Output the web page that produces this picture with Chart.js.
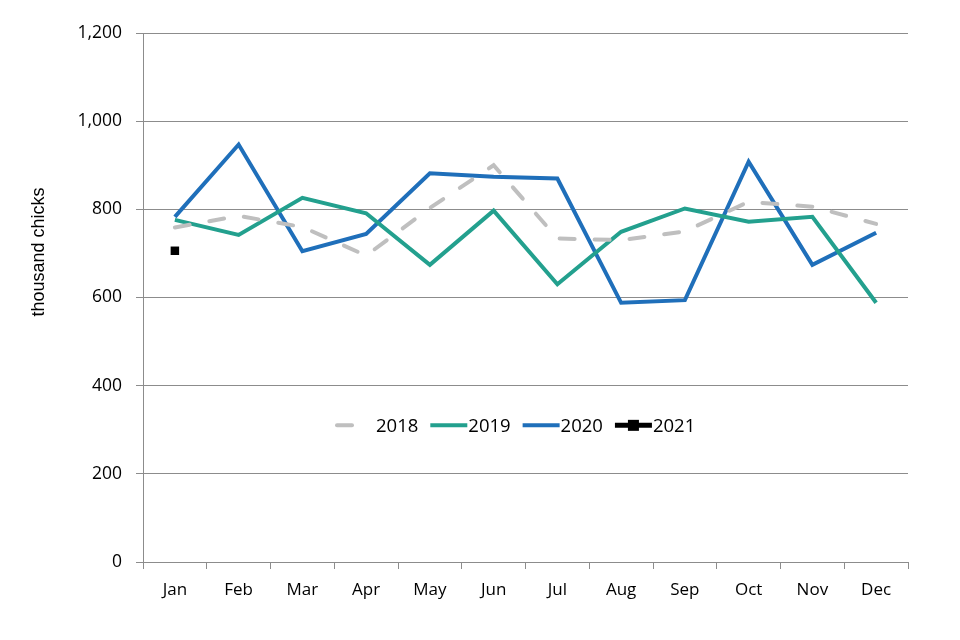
<!DOCTYPE html>
<html>
<head>
<meta charset="utf-8">
<script src="https://cdn.jsdelivr.net/npm/chart.js@4.4.1/dist/chart.umd.min.js"></script>
<style>
    html, body { margin: 0; padding: 0; background: #fff; }
    #wrap { width: 960px; height: 640px; }
</style>
</head>
<body>
<div id="wrap"><canvas id="chicks-chart" width="960" height="640"></canvas></div>
<script>
const months = ['Jan', 'Feb', 'Mar', 'Apr', 'May', 'Jun', 'Jul', 'Aug', 'Sep', 'Oct', 'Nov', 'Dec'];

const y2018 = [759, 785, 760, 695, 803, 900, 734, 730, 750, 817, 806, 767];
const y2019 = [776, 742, 826, 791, 674, 797, 630, 749, 802, 772, 783, 588];
const y2020 = [783, 947, 705, 744, 882, 874, 870, 588, 594, 908, 674, 747];
const y2021 = [706, null, null, null, null, null, null, null, null, null, null, null];

const yTitle = 'thousand chicks';

const FONT = "'Open Sans', 'Noto Sans', sans-serif";
const GRID = '#8c8c8c';

// legend sits inside the plot, around the 310 line
const insideLegend = {
    id: 'insideLegend',
    afterDraw(chart) {
        const ctx = chart.ctx;
        const y = chart.scales.y.getPixelForValue(310);
        const lineW = 37;
        let x = 335;
        ctx.save();
        ctx.font = '18.5px ' + FONT;
        ctx.textBaseline = 'middle';
        chart.data.datasets.forEach((ds, i) => {
            ctx.beginPath();
            ctx.lineWidth = ds.pointStyle === 'rect' ? 5 : 4;
            ctx.strokeStyle = ds.legendColor;
            if (ds.borderDash) {
                // only one dash shows in the key
                ctx.lineCap = 'round';
                ctx.moveTo(x + 2, y);
                ctx.lineTo(x + 17, y);
            } else {
                ctx.lineCap = 'butt';
                ctx.moveTo(x, y);
                ctx.lineTo(x + lineW, y);
            }
            ctx.stroke();
            if (ds.pointStyle === 'rect' && ds.pointRadius) {
                ctx.fillStyle = ds.pointBackgroundColor;
                ctx.fillRect(x + lineW / 2 - 5.5, y - 5.5, 11, 11);
            }
            ctx.fillStyle = '#000';
            const tx = x + lineW + (i === 0 ? 4 : 1);
            ctx.fillText(ds.label, tx, y + 1);
            x = tx + ctx.measureText(ds.label).width + 12;
        });
        ctx.restore();
    }
};

// axis title sits a bit above the middle, like the original
const sideTitle = {
    id: 'sideTitle',
    afterDraw(chart) {
        const ctx = chart.ctx;
        ctx.save();
        ctx.translate(39, 252);
        ctx.rotate(-Math.PI / 2);
        ctx.font = "18px 'Liberation Sans', Arial, sans-serif";
        ctx.fillStyle = '#000';
        ctx.textAlign = 'center';
        ctx.textBaseline = 'middle';
        ctx.fillText(yTitle, 0, 0);
        ctx.restore();
    }
};

const ctx = document.getElementById('chicks-chart').getContext('2d');
const chicksChart = new Chart(ctx, {
    type: 'line',
    data: {
        labels: months,
        datasets: [
            {
                label: '2018',
                data: y2018,
                borderColor: '#bfbfbf',
                legendColor: '#bfbfbf',
                borderWidth: 4,
                borderDash: [15, 20],
                borderCapStyle: 'round',
                pointRadius: 0
            },
            {
                label: '2019',
                data: y2019,
                borderColor: '#23a08e',
                legendColor: '#23a08e',
                borderWidth: 4,
                pointRadius: 0
            },
            {
                label: '2020',
                data: y2020,
                borderColor: '#1f6fba',
                legendColor: '#1f6fba',
                borderWidth: 4,
                pointRadius: 0
            },
            {
                label: '2021',
                data: y2021,
                borderColor: '#000',
                legendColor: '#000',
                borderWidth: 4,
                showLine: false,
                pointStyle: 'rect',
                pointRadius: 6,
                pointBackgroundColor: '#000',
                pointBorderWidth: 0
            }
        ]
    },
    options: {
        responsive: false,
        animation: false,
        layout: {
            padding: { left: 22, right: 52, top: 33, bottom: 0 }
        },
        plugins: {
            legend: { display: false },
            tooltip: { enabled: false }
        },
        scales: {
            x: {
                offset: true,
                afterFit: (scale) => { scale.height = 78; },
                grid: {
                    drawOnChartArea: false,
                    drawTicks: true,
                    tickLength: 7,
                    color: GRID,
                    offset: true
                },
                border: { color: GRID, width: 1 },
                ticks: {
                    color: '#000',
                    padding: 11,
                    font: { family: FONT, size: 17 }
                }
            },
            y: {
                min: 0,
                max: 1200,
                afterFit: (scale) => { scale.width = 121; },
                grid: {
                    color: GRID,
                    tickLength: 7
                },
                border: { color: GRID, width: 1 },
                ticks: {
                    stepSize: 200,
                    color: '#000',
                    padding: 14,
                    font: { family: FONT, size: 17.5 }
                }
            }
        }
    },
    plugins: [insideLegend, sideTitle]
});
</script>
</body>
</html>
